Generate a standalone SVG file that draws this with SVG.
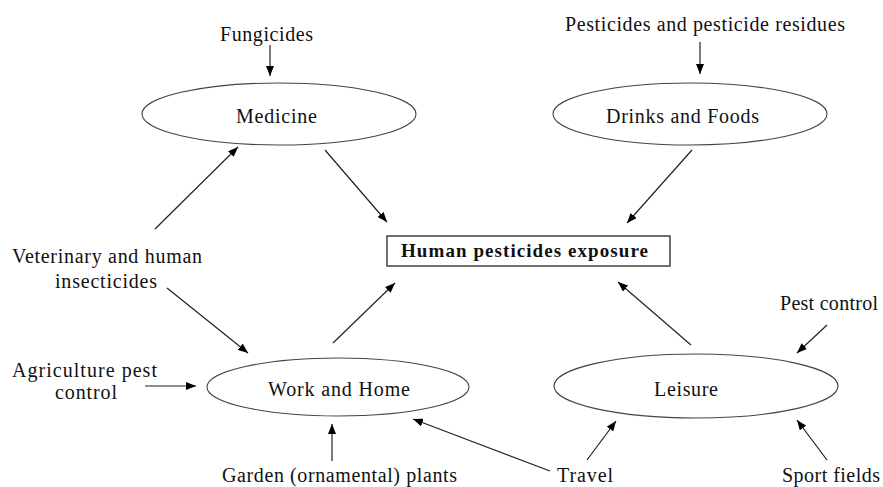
<svg xmlns="http://www.w3.org/2000/svg" width="883" height="487" viewBox="0 0 883 487">
<defs>
<marker id="ah" viewBox="0 0 10 8" refX="10" refY="4" markerWidth="10" markerHeight="8" markerUnits="userSpaceOnUse" orient="auto">
<path d="M0,0 L10,4 L0,8 Z" fill="#000"/>
</marker>
</defs>
<style>
text{font-family:"Liberation Serif","Times New Roman",serif;font-size:20px;fill:#111}
.b{font-weight:bold;font-size:19px}
ellipse{fill:#fff;stroke:#444;stroke-width:1.1}
rect{fill:#fff;stroke:#333;stroke-width:1.4}
.c line{stroke:#222;stroke-width:1.2;marker-end:url(#ah)}
</style>
<rect width="883" height="487" fill="#fff" style="stroke:none"/>
<g id="fungicides"><text x="220" y="41" textLength="93" lengthAdjust="spacing">Fungicides</text></g>
<g id="residues"><text x="565" y="31" textLength="280" lengthAdjust="spacing">Pesticides and pesticide residues</text></g>
<g id="medicine"><ellipse cx="279" cy="114" rx="137" ry="31"/><text x="236" y="123" textLength="81" lengthAdjust="spacing">Medicine</text></g>
<g id="drinks"><ellipse cx="690" cy="114" rx="137" ry="31"/><text x="606" y="123" textLength="153" lengthAdjust="spacing">Drinks and Foods</text></g>
<g id="exposure"><rect x="387" y="236" width="283" height="30"/><text class="b" x="401" y="257" textLength="247" lengthAdjust="spacing">Human pesticides exposure</text></g>
<g id="veterinary"><text x="12" y="263" textLength="190" lengthAdjust="spacing">Veterinary and human</text><text x="55" y="288" textLength="102" lengthAdjust="spacing">insecticides</text></g>
<g id="agriculture"><text x="12" y="377" textLength="145" lengthAdjust="spacing">Agriculture pest</text><text x="55" y="399" textLength="62" lengthAdjust="spacing">control</text></g>
<g id="workhome"><ellipse cx="338" cy="387" rx="131" ry="29"/><text x="268" y="396" textLength="142" lengthAdjust="spacing">Work and Home</text></g>
<g id="leisure"><ellipse cx="696" cy="386" rx="142" ry="32"/><text x="654" y="396" textLength="64" lengthAdjust="spacing">Leisure</text></g>
<g id="pestcontrol"><text x="780" y="310" textLength="98" lengthAdjust="spacing">Pest control</text></g>
<g id="garden"><text x="222" y="482" textLength="235" lengthAdjust="spacing">Garden (ornamental) plants</text></g>
<g id="travel"><text x="557" y="482" textLength="56" lengthAdjust="spacing">Travel</text></g>
<g id="sport"><text x="782" y="482" textLength="98" lengthAdjust="spacing">Sport fields</text></g>
<g id="connectors" class="c">
<line x1="270" y1="45" x2="270" y2="76"/>
<line x1="325" y1="150" x2="387" y2="222"/>
<line x1="155" y1="229" x2="238" y2="147"/>
<line x1="700" y1="42" x2="700" y2="74"/>
<line x1="692" y1="150" x2="627" y2="223"/>
<line x1="167" y1="288" x2="248" y2="353"/>
<line x1="145" y1="386" x2="196" y2="386"/>
<line x1="333" y1="343" x2="395" y2="283"/>
<line x1="332" y1="461" x2="332" y2="424"/>
<line x1="550" y1="471" x2="413" y2="419"/>
<line x1="587" y1="460" x2="616" y2="421"/>
<line x1="691" y1="345" x2="618" y2="282"/>
<line x1="827" y1="325" x2="797" y2="353"/>
<line x1="827" y1="460" x2="797" y2="420"/>
</g>
</svg>
